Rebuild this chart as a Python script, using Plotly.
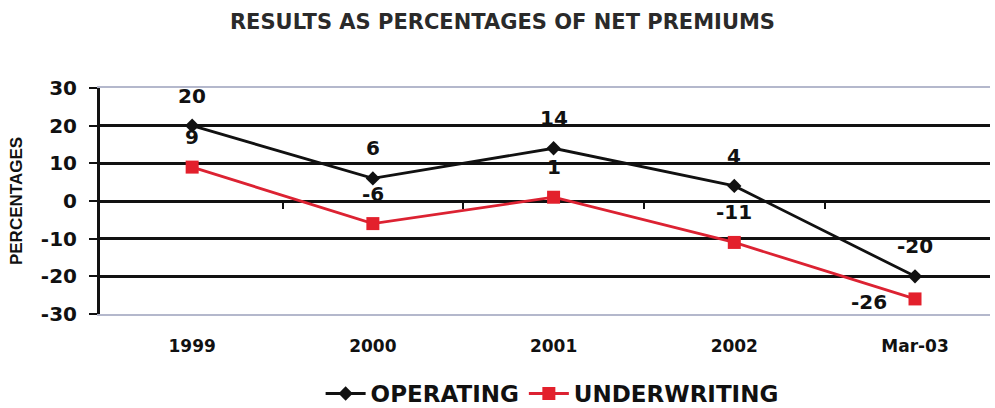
import plotly.graph_objects as go

categories = ["1999", "2000", "2001", "2002", "Mar-03"]
operating = [20, 6, 14, 4, -20]
underwriting = [9, -6, 1, -11, -26]
y_ticks = [-30, -20, -10, 0, 10, 20, 30]
y_tick_labels = ["-30", "-20", "-10", "0", "10", "20", "30"]
grid_vals = [-20, -10, 0, 10, 20]
boundaries = [0.5, 1.5, 2.5, 3.5]

BOLD = dict(family="DejaVu Sans", weight="bold", color="#111111")
idx = list(range(len(categories)))

fig = go.Figure()
fig.add_trace(go.Scatter(
    x=idx, y=operating, name="OPERATING", mode="lines+markers",
    line=dict(color="#111111", width=2.8),
    marker=dict(symbol="diamond", size=11, color="#111111"),
))
fig.add_trace(go.Scatter(
    x=idx, y=underwriting, name="UNDERWRITING", mode="lines+markers",
    line=dict(color="#dc2232", width=2.8),
    marker=dict(symbol="square", size=13, color="#e3202c"),
))
# helper trace for overlay axes (grid + zero-line ticks)
fig.add_trace(go.Scatter(x=[None], y=[None], xaxis="x2", yaxis="y2",
                         showlegend=False, hoverinfo="skip"))

annotations = []
for i, v in zip(idx, operating):
    annotations.append(dict(x=i, y=v, xref="x", yref="y", text=str(v), showarrow=False,
                            yshift=30, font=dict(size=20, **BOLD)))
for i, v in zip(idx, underwriting):
    if i == len(categories) - 1:
        annotations.append(dict(x=i, y=v, xref="x", yref="y", text=str(v), showarrow=False,
                                xanchor="right", xshift=-26, yshift=-3,
                                font=dict(size=20, **BOLD)))
    else:
        annotations.append(dict(x=i, y=v, xref="x", yref="y", text=str(v), showarrow=False,
                                yshift=30, font=dict(size=20, **BOLD)))

fig.update_layout(
    width=995, height=408,
    margin=dict(l=100, r=5, t=88, b=94, autoexpand=False),
    paper_bgcolor="white", plot_bgcolor="white",
    title=dict(text="RESULTS AS PERCENTAGES OF NET PREMIUMS",
               x=0.505, xanchor="center", y=1 - 22 / 408, yanchor="middle",
               font=dict(size=21, family="DejaVu Sans", weight="bold", color="#2a2a2a")),
    xaxis=dict(range=[-0.51, 4.415], tickvals=idx, ticktext=categories,
               showgrid=False, zeroline=False,
               showline=True, linecolor="#b4b8cc", linewidth=2, mirror=True,
               ticks="outside", ticklen=16, tickcolor="rgba(0,0,0,0)",
               tickfont=dict(size=17, **BOLD)),
    yaxis=dict(range=[-30, 30], tickvals=y_ticks, ticktext=y_tick_labels,
               showgrid=False, zeroline=False,
               showline=True, linecolor="#111111", linewidth=3,
               ticks="outside", ticklen=8, tickwidth=2, tickcolor="#111111",
               ticklabelstandoff=8,
               tickfont=dict(size=20, **BOLD),
               title=dict(text="PERCENTAGES", standoff=14,
                          font=dict(size=17, family="Liberation Sans", weight="bold", color="#111111"))),
    xaxis2=dict(overlaying="x", anchor="free", position=0.5, side="bottom",
                range=[-0.51, 4.415], tickvals=boundaries, showticklabels=False,
                ticks="outside", ticklen=7, tickwidth=2, tickcolor="#111111",
                showgrid=False, zeroline=False, showline=False),
    yaxis2=dict(overlaying="y", anchor="x", range=[-30, 30], tickvals=grid_vals,
                showticklabels=False, ticks="", showgrid=True,
                gridcolor="#111111", gridwidth=2.5, zeroline=False, showline=False),
    legend=dict(orientation="h", x=0.508, xanchor="center", y=-0.352, yanchor="middle",
                font=dict(size=23, **BOLD), itemwidth=40, bgcolor="rgba(0,0,0,0)",
                tracegroupgap=0),
    annotations=annotations,
    showlegend=True,
)

fig.write_html("out.html")
